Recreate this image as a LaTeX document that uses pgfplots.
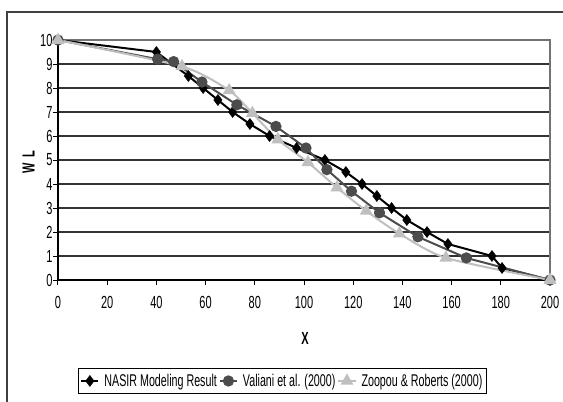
\documentclass[border=0pt]{standalone}
\usepackage{fontspec}
\setmainfont{Liberation Sans}[FakeStretch=0.63]
\usepackage{pgfplots}
\pgfplotsset{compat=1.18}
\begin{document}
\begin{tikzpicture}[x=1pt,y=1pt]
\begin{axis}[
  at={(58pt,-280pt)}, anchor=south west,
  scale only axis, width=492pt, height=240pt,
  xmin=0, xmax=200, ymin=0, ymax=10,
  xtick={0,20,...,200}, ytick={0,1,...,10},
  ymajorgrids,
  major grid style={black!80, line width=1.3pt},
  axis line style={black!55, line width=1.3pt},
  tick align=outside, major tick length=5pt,
  tick style={black, line width=1pt},
  xtick pos=bottom, ytick pos=left,
  /pgf/number format/assume math mode=true,
  tick label style={font=\fontsize{17.5}{17.5}\selectfont},
  xticklabel style={yshift=-8pt},
  yticklabel style={xshift=3pt},
  legend style={at={(0.456,-0.365)}, anchor=north, legend columns=3,
    draw=black, line width=0.9pt, font=\fontsize{17}{17}\selectfont,
    inner xsep=2pt, inner ysep=4pt,
    /tikz/every even column/.append style={column sep=0pt},
    /tikz/every odd column/.append style={column sep=3pt}},
  legend cell align=left,
  clip=false,
]
\draw[black, line width=1.5pt] (rel axis cs:0,1) -- (rel axis cs:0,0) -- (rel axis cs:1,0);
\addplot[black, line width=2pt, mark=diamond*, mark size=5.5pt, mark options={fill=black, line width=0.5pt}]
coordinates {(0,10)(40,9.5)(53,8.5)(59,8)(65,7.5)(71,7)(78,6.5)(86,6)(97,5.5)(108.5,5)(117,4.5)(123.6,4)(129.6,3.5)(135.6,3)(141.8,2.5)(150,2)(158.5,1.5)(176.4,1)(180.5,0.5)(200,0)};
\addlegendentry{NASIR Modeling Result}
\addplot[black!70, line width=2pt, mark=*, mark size=4.6pt, mark options={fill=black!70, draw=black!70}]
coordinates {(0,10)(40.5,9.2)(47,9.1)(58.5,8.25)(72.7,7.3)(88.6,6.4)(100.8,5.5)(109.3,4.6)(119.3,3.7)(130.7,2.8)(146.3,1.8)(166,0.92)(200,0)};
\addlegendentry{Valiani et al. (2000)}
\addplot[black!25, line width=2pt, smooth, tension=0.4, mark=triangle*, mark size=5.5pt, mark options={fill=black!25, draw=black!25}]
coordinates {(0,10)(50.4,8.9)(69.6,7.9)(79,6.95)(89.4,5.85)(101.6,4.9)(113.4,3.85)(125.3,2.88)(138.8,1.93)(157.7,0.92)(200,0)};
\addlegendentry{Zoopou \& Roberts (2000)}
\node[rotate=90, font=\fontsize{17.5}{17.5}\selectfont\bfseries] at (rel axis cs:-0.06,0.49) {W\,\,L};
\node[font=\fontsize{17.5}{17.5}\selectfont\bfseries] at (rel axis cs:0.502,-0.242) {X};
\end{axis}
\draw[black!75, line width=2pt] (7pt,-402pt) -- (7pt,-12pt) -- (563pt,-12pt);
\pgfresetboundingbox
\path[use as bounding box] (0,0) rectangle (563pt,-402pt);
\end{tikzpicture}
\end{document}
